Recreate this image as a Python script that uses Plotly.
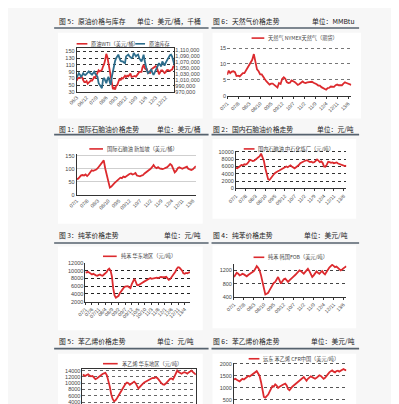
import plotly.graph_objects as go
import pandas as pd

W, H = 399, 404

# ---------------- data ----------------
wti_start = "2006-03-01"
wti = [63, 70, 71, 71, 74, 73, 64, 59, 59, 62,
       54, 59, 60, 64, 63, 68, 74, 72, 80, 86, 94, 91,
       93, 95, 105, 112, 125, 143, 133, 116, 104, 77, 57, 38,
       42, 37, 48, 50, 59, 69, 64, 71, 69, 76, 78, 74,
       78, 76, 81, 84, 74, 75, 76, 77, 75, 82, 84, 89,
       89, 89, 103, 110, 101, 97, 97, 86, 86, 86, 97, 99,
       100, 102, 106, 103, 94, 82, 88, 94, 94, 89, 86, 88,
       94, 95, 93, 92, 95, 96, 105, 107]
inventory = [1017000, 1026000, 1033000, 1028000, 1021000, 1026000, 1033000, 1028000, 1027000, 1031000,
             1034000, 1039000, 1035000, 1031000, 1028000, 1033000, 1038000, 1031000, 1026000, 1021000,
             999000, 991000, 988000, 982000, 1011000, 1017000, 1007000, 999000, 1012000, 1021000,
             1005000, 993000, 1021000, 1040000, 1062000, 1075000, 1084000, 1089000, 1096000, 1084000,
             1075000, 1073000, 1073000, 1069000, 1067000, 1090000, 1094000, 1096000, 1091000, 1087000,
             1084000, 1087000, 1102000, 1096000, 1090000, 1094000, 1096000, 1084000, 1080000, 1073000,
             1082000, 1096000, 1075000, 1056000, 1042000, 1033000, 1038000, 1042000, 1045000, 1035000,
             1027000, 1035000, 1045000, 1052000, 1059000, 1067000, 1061000, 1056000, 1073000, 1066000,
             1059000, 1068000, 1075000, 1079000, 1084000, 1094000, 1096000, 1089000, 1075000, 1062000]

series_start = "2007-01-01"
natgas = [6.6, 7.9, 7.1, 7.6, 7.7, 7.4, 6.2, 6.3, 6.1, 6.7, 7.1, 7.1,
          8.0, 8.6, 9.4, 10.2, 11.3, 13.1, 11.1, 8.3, 7.7, 6.7, 6.7, 5.8,
          5.2, 4.5, 4.0, 3.5, 3.8, 3.8, 3.4, 3.1, 2.6, 4.0, 3.7, 5.3,
          5.8, 5.3, 4.3, 4.0, 4.1, 4.8, 4.6, 4.3, 3.9, 3.4, 3.7, 4.2,
          4.5, 4.1, 4.0, 4.2, 4.3, 4.5, 4.4, 4.1, 3.9, 3.6, 3.2, 3.2,
          2.7, 2.5, 2.2, 1.9, 2.4, 2.5, 2.9, 2.8, 2.8, 3.3, 3.5, 3.3,
          3.3, 3.3, 3.8, 4.2, 4.0, 3.8, 3.6, 3.4]
naphtha_sg = [60, 62, 68, 75, 76, 74, 78, 72, 78, 86, 94, 92,
              94, 97, 102, 110, 120, 128, 132, 100, 75, 45, 28, 32,
              40, 45, 50, 55, 60, 66, 64, 70, 68, 73, 76, 80,
              82, 78, 80, 84, 74, 72, 71, 74, 76, 82, 86, 92,
              96, 100, 106, 114, 106, 102, 106, 101, 100, 99, 101, 103,
              106, 112, 118, 113, 98, 86, 92, 102, 106, 103, 100, 103,
              106, 108, 100, 96, 95, 98, 104, 110]
naphtha_cn = [5600, 5500, 5800, 6200, 6400, 6300, 6600, 6500, 6700, 7200, 7800, 7700,
              7500, 7600, 7900, 8200, 8400, 8800, 9500, 8600, 7500, 5500, 3500, 2500,
              2300, 2900, 3300, 3800, 4200, 4600, 4700, 4900, 5100, 5300, 5600, 5900,
              6000, 5800, 6100, 6300, 6000, 5700, 5500, 5800, 6000, 6400, 6900, 7200,
              7300, 7500, 7600, 7700, 7400, 7200, 7300, 7100, 7200, 7500, 7900, 7600,
              7200, 7400, 7000, 6000, 5900, 6500, 7300, 7200, 7000, 7100, 6900, 7000,
              7100, 6800, 6700, 6500, 6400, 6200, 6100, 6200]
benzene_cn = [9600, 9500, 9700, 9400, 9100, 9000, 9200, 8900, 8800, 8700, 8900, 9000,
              8800, 8700, 9000, 9200, 9600, 10200, 10500, 10000, 8500, 5400, 3600, 3000,
              3200, 3500, 4200, 4800, 5000, 5600, 5900, 6000, 6000, 5700, 5500, 6500,
              7300, 7900, 7200, 6300, 6200, 6500, 6700, 6900, 7100, 7300, 7600, 7800,
              8000, 8100, 7900, 8000, 8200, 8300, 8200, 8100, 8300, 8400, 8300, 8200,
              8300, 8400, 8000, 7600, 7800, 8300, 8600, 9000, 9800, 10500, 10900, 10800,
              10500, 10000, 9300, 9200, 9400, 9300, 9500, 9600]
benzene_kr = [1000, 1080, 1130, 1100, 1050, 1070, 1100, 1080, 1050, 1020, 1060, 1100,
              1120, 1150, 1180, 1250, 1330, 1280, 1200, 1050, 850, 600, 470, 490,
              520, 600, 680, 750, 820, 850, 920, 1000, 900, 800, 870, 930,
              950, 880, 850, 900, 950, 980, 1020, 1060, 1100, 1150, 1200, 1180,
              1130, 1100, 1150, 1200, 1250, 1180, 1080, 1000, 1050, 1120, 1170, 1130,
              1100, 1150, 1180, 1120, 1080, 1150, 1230, 1290, 1330, 1370, 1340, 1300,
              1320, 1280, 1250, 1200, 1230, 1280, 1300, 1330]
styrene_cn = [12700, 12500, 12300, 12600, 12800, 12400, 12200, 12300, 11800, 11300, 11500, 11900,
              12200, 12600, 12900, 13100, 13300, 12500, 11000, 9000, 6500, 5000, 4300, 4600,
              5200, 6000, 6800, 7600, 8300, 9200, 9800, 10200, 10000, 9500, 9800, 10300,
              10500, 10000, 9000, 8300, 8800, 9500, 9800, 10200, 10500, 10800, 11000, 11300,
              11500, 11700, 11600, 11900, 11700, 11200, 10500, 10000, 9600, 9500, 9900, 10500,
              11000, 11400, 11500, 11200, 12000, 13200, 14000, 13500, 13200, 13000, 13300, 13500,
              13300, 13000, 13400, 13800, 14000, 13500, 13000, 12700]
styrene_cfr = [1360, 1380, 1340, 1300, 1270, 1330, 1380, 1350, 1400, 1450, 1500, 1480,
               1530, 1560, 1600, 1650, 1700, 1600, 1500, 1250, 900, 620, 590, 650,
               720, 840, 950, 1070, 1050, 1150, 1100, 1000, 1050, 1100, 1120, 1150,
               1180, 1100, 950, 900, 1000, 1050, 1100, 1150, 1200, 1270, 1330, 1380,
               1420, 1450, 1380, 1300, 1380, 1450, 1480, 1450, 1400, 1380, 1420, 1480,
               1530, 1500, 1450, 1380, 1420, 1500, 1600, 1650, 1700, 1730, 1680, 1650,
               1700, 1720, 1680, 1720, 1760, 1790, 1750, 1730]

styrene_cn_ticks = [4000, 6000, 8000, 10000, 12000, 14000]
styrene_cfr_ticks = [500, 1000, 1500, 2000]

titles_left = ["图 5：原油价格与库存", "图 1：国际石脑油价格走势", "图 3：纯苯价格走势", "图 5：苯乙烯价格走势"]
units_left = ["单位：美元/桶，千桶", "单位：美元/桶", "单位：元/吨", "单位：元/吨"]
titles_right = ["图 6：天然气价格走势", "图 2：国内石脑油价格走势", "图 4：纯苯价格走势", "图 6：苯乙烯价格走势"]
units_right = ["单位：MMBtu", "单位：元/吨", "单位：美元/吨", "单位：美元/吨"]
legend_names = ["原油WTI（美元/桶）", "原油库存", "天然气 NYMEX天然气（期货）",
                "国际石脑油 新加坡（美元/桶）", "国内石脑油 中石化炼厂（元/吨）",
                "纯苯 华东地区（元/吨）", "纯苯 韩国FOB（美元/吨）",
                "苯乙烯 华东地区（元/吨）", "远东 苯乙烯 CFR中国（美元/吨）"]

# ---------------- helpers ----------------
RED = "#dc2a2e"
BLUE = "#2d6d8c"
CJK = "Noto Sans CJK SC"
TICKF = dict(family="Liberation Sans", size=5.5, color="#444")


def dx(a, b):
    return [a / W, b / W]


def dy(top, bottom):
    return [max(0, 1 - bottom / H), 1 - top / H]


def px(x):
    return x / W


def py(y):
    return 1 - y / H


fig = go.Figure()

wti_dates = pd.date_range(wti_start, periods=len(wti), freq="MS")
inv_dates = pd.date_range(wti_start, periods=len(inventory), freq="MS")
dates = pd.date_range(series_start, periods=len(natgas), freq="MS")

traces = [
    (wti_dates, wti, RED, "x", "y"),
    (inv_dates, inventory, BLUE, "x", "y9"),
    (dates, natgas, RED, "x2", "y2"),
    (dates, naphtha_sg, RED, "x3", "y3"),
    (dates, naphtha_cn, RED, "x4", "y4"),
    (dates, benzene_cn, RED, "x5", "y5"),
    (dates, benzene_kr, RED, "x6", "y6"),
    (dates, styrene_cn, RED, "x7", "y7"),
    (dates, styrene_cfr, RED, "x8", "y8"),
]
for (xv, yv, col, xa, ya), nm in zip(traces, legend_names):
    fig.add_trace(go.Scatter(x=xv, y=yv, mode="lines", name=nm,
                             line=dict(color=col, width=1.8),
                             xaxis=xa, yaxis=ya, showlegend=False))

specs = {
    1: dict(x=(61, 161), y=(38, 82), yr=[30, 159], dt=20, t0=30, xdt="M9", box=True,
            grid=dict(gridcolor="#333", griddash="dot"), xt0=wti_start),
    2: dict(x=(215, 342), y=(36, 86), yr=[0, 15.5], dt=5, t0=0, xdt="M7", box=False,
            grid=dict(gridcolor="#777", griddash="dot"), xt0=series_start),
    3: dict(x=(61, 183), y=(145, 186.7), yr=[0, 157], dt=50, t0=0, xdt="M7", box=False,
            grid=dict(gridcolor="#cfcfcf", griddash="solid"), xt0=series_start),
    4: dict(x=(224, 337), y=(141.7, 180), yr=[0, 10350], dt=2000, t0=0, xdt="M7", box=False,
            grid=dict(gridcolor="#333", griddash="dot"), xt0=series_start),
    5: dict(x=(70, 177), y=(255.7, 295), yr=[2000, 12000], dt=2000, t0=2000, xdt="M5", box=False,
            grid=dict(gridcolor="#222", griddash="dot"), xt0=series_start),
    6: dict(x=(222, 337), y=(256.7, 290), yr=[400, 1400], dt=400, t0=400, xdt="M7", box=False,
            grid=dict(gridcolor="#444", griddash="dot"), xt0=series_start),
    7: dict(x=(67, 183), y=(363.3, 404), yr=[1812, 14530], ticks=styrene_cn_ticks, xdt="M7",
            box=True, grid=dict(gridcolor="#666", griddash="dot"), xt0=series_start),
    8: dict(x=(222, 337), y=(357, 404), yr=[117, 2054], ticks=styrene_cfr_ticks, xdt="M7",
            box=False, grid=dict(gridcolor="#555", griddash="dot"), xt0=series_start),
}

lay = {}
for n, s in specs.items():
    xk = "xaxis" if n == 1 else f"xaxis{n}"
    yk = "yaxis" if n == 1 else f"yaxis{n}"
    ya = "y" if n == 1 else f"y{n}"
    xa = "x" if n == 1 else f"x{n}"
    xd = dict(domain=dx(*s["x"]), anchor=ya, showgrid=False, zeroline=False,
              showline=True, linecolor="#333", linewidth=1, mirror=s["box"],
              ticks="outside" if n in (2, 4, 5, 6) else "", ticklen=2, tickcolor="#333",
              tickformat="%y/%-m", dtick=s["xdt"], tick0=s["xt0"], tickangle=-45,
              tickfont=dict(family="Liberation Sans", size=5, color="#444"),
              fixedrange=True)
    if n in (7, 8):
        # axis labels fall below the page edge: no ticks drawn at all
        xd.update(tickmode="array", tickvals=[], showticklabels=False)
        xd.pop("dtick")
        xd.pop("tick0")
    lay[xk] = xd
    yd = dict(domain=dy(*s["y"]), anchor=xa, range=s["yr"],
              showgrid=True, gridwidth=1, zeroline=False, showline=n != 2,
              linecolor="#333", linewidth=1, mirror=s["box"], ticks="",
              tickformat="d", tickfont=TICKF, fixedrange=True, **s["grid"])
    if "ticks" in s:
        yd.update(tickmode="array", tickvals=s["ticks"])
    else:
        yd.update(dtick=s["dt"], tick0=s["t0"])
    lay[yk] = yd

lay["yaxis9"] = dict(overlaying="y", side="right", anchor="x", range=[970000, 1117000],
                     dtick=20000, tick0=970000, tickformat=",d", showgrid=False,
                     zeroline=False, showline=False, tickfont=TICKF, fixedrange=True)

# ---------------- decorations ----------------
shapes = []
annotations = []

panels = [(42, 22, 190, 109), (200, 22, 352, 109),
          (42, 130, 190, 216), (200, 130, 347, 211),
          (42, 239, 190, 324), (200, 238, 347, 322),
          (42, 348, 190, 404), (200, 348, 347, 404)]
for x0, y0, x1, y1 in panels:
    shapes.append(dict(type="rect", xref="paper", yref="paper", x0=px(x0), x1=px(x1),
                       y0=py(y1), y1=py(y0), fillcolor="white", line=dict(width=0), layer="below"))

rows = [(10, 17.3), (120, 125.5), (227.3, 235.5), (335, 342.7)]
left_unit_end = [190, 190, 190, 183]
right_unit_end = [348, 347, 341, 348]
for i, (ty, uy) in enumerate(rows):
    hf = dict(family=CJK, size=6.8, color="#222")
    annotations.append(dict(text=titles_left[i], x=px(41), y=py(ty), xref="paper", yref="paper",
                            xanchor="left", yanchor="middle", showarrow=False, font=hf))
    annotations.append(dict(text=units_left[i], x=px(left_unit_end[i]), y=py(ty), xref="paper",
                            yref="paper", xanchor="right", yanchor="middle", showarrow=False, font=hf))
    annotations.append(dict(text=titles_right[i], x=px(198), y=py(ty), xref="paper", yref="paper",
                            xanchor="left", yanchor="middle", showarrow=False, font=hf))
    annotations.append(dict(text=units_right[i], x=px(right_unit_end[i]), y=py(ty), xref="paper",
                            yref="paper", xanchor="right", yanchor="middle", showarrow=False, font=hf))
    shapes.append(dict(type="line", xref="paper", yref="paper", x0=px(38), x1=px(196),
                       y0=py(uy), y1=py(uy), line=dict(color="#56626e", width=1.6)))
    shapes.append(dict(type="line", xref="paper", yref="paper", x0=px(199), x1=px(350),
                       y0=py(uy), y1=py(uy), line=dict(color="#56626e", width=1.6)))

legend_pos = [
    (61, 72, 33.3, RED), (121, 131, 33.3, BLUE), (240, 253, 27.5, RED),
    (74, 88, 140, RED), (232, 243, 140, RED), (88, 102, 249, RED),
    (242, 253, 250, RED), (88, 103, 358, RED), (237, 248, 353, RED)]
for (x0, x1, yy, col), nm in zip(legend_pos, legend_names):
    shapes.append(dict(type="line", xref="paper", yref="paper", x0=px(x0), x1=px(x1),
                       y0=py(yy), y1=py(yy), line=dict(color=col, width=1.6)))
    annotations.append(dict(text=nm, x=px(x1 + 2), y=py(yy), xref="paper", yref="paper",
                            xanchor="left", yanchor="middle", showarrow=False,
                            font=dict(family=CJK, size=5.2, color="#444")))

fig.update_layout(width=W, height=H, margin=dict(l=0, r=0, t=0, b=0),
                  paper_bgcolor="#f7f7f7", plot_bgcolor="white",
                  shapes=shapes, annotations=annotations, **lay)

fig.write_html("out.html")
